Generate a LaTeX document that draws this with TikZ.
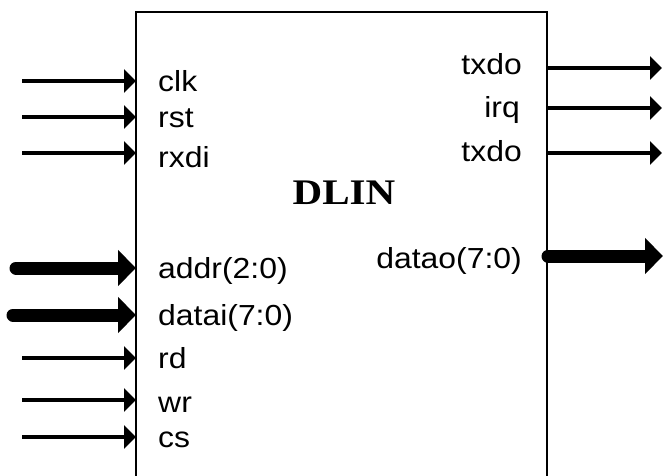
\documentclass[tikz,border=0pt]{standalone}
\usepackage{fontspec}
\setmainfont{Liberation Sans}
\newfontfamily\titlefont{Liberation Serif}
\usetikzlibrary{arrows.meta}
\begin{document}
\begin{tikzpicture}[x=1pt,y=1pt,
  pinlabel/.style={inner sep=0pt,font=\fontsize{29}{29}\selectfont,xscale=1.1},
  thinarrow/.style={line width=4pt,-{Triangle[length=12pt,width=23pt]}},
  busarrow/.style={line width=13pt,line cap=round,-{Triangle[length=18pt,width=35pt]}}]
\useasboundingbox (0,0) rectangle (670,475);
% block outline (open at the bottom, beyond the picture edge)
\coordinate (bl) at (136,-5);
\coordinate (tl) at (136,463);
\coordinate (tr) at (547,463);
\coordinate (br) at (547,-5);
\draw[line width=2.5pt] (bl) -- (tl) -- (tr) -- (br);
\node[inner sep=0pt,anchor=base,font=\titlefont\bfseries\fontsize{36}{36}\selectfont,xscale=1.14] (title) at (344,270) {DLIN};
% left pins
\foreach \nm/\y/\sx/\sty in {clk/394/22/thinarrow, rst/358/22/thinarrow, rxdi/322/22/thinarrow,
   addr/207/16/busarrow, datai/160/13/busarrow, rd/117/22/thinarrow, wr/75/22/thinarrow, cs/38/22/thinarrow}{
  \coordinate (\nm-s) at (\sx,\y);
  \coordinate (\nm-e) at (136,\y);
  \draw[\sty] (\nm-s) -- (\nm-e);
}
\node[pinlabel,anchor=base west] (lclk) at (158,383) {clk};
\node[pinlabel,anchor=base west] (lrst) at (158,347) {rst};
\node[pinlabel,anchor=base west] (lrxdi) at (158,308) {rxdi};
\node[pinlabel,anchor=base west] (laddr) at (158,197) {addr(2:0)};
\node[pinlabel,anchor=base west] (ldatai) at (158,150) {datai(7:0)};
\node[pinlabel,anchor=base west] (lrd) at (158,107) {rd};
\node[pinlabel,anchor=base west] (lwr) at (158,63) {wr};
\node[pinlabel,anchor=base west] (lcs) at (158,28) {cs};
% right pins
\foreach \nm/\y in {txdoa/407, irq/367, txdob/322}{
  \coordinate (\nm-s) at (547,\y);
  \coordinate (\nm-e) at (662,\y);
  \draw[thinarrow] (\nm-s) -- (\nm-e);
}
\coordinate (datao-s) at (548,219);
\coordinate (datao-e) at (663,219);
\draw[busarrow] (datao-s) -- (datao-e);
\node[pinlabel,anchor=base east] (ltxdoa) at (522,400) {txdo};
\node[pinlabel,anchor=base east] (lirq) at (520,357) {irq};
\node[pinlabel,anchor=base east] (ltxdob) at (522,313) {txdo};
\node[pinlabel,anchor=base east] (ldatao) at (522,207) {datao(7:0)};
\end{tikzpicture}
\end{document}
